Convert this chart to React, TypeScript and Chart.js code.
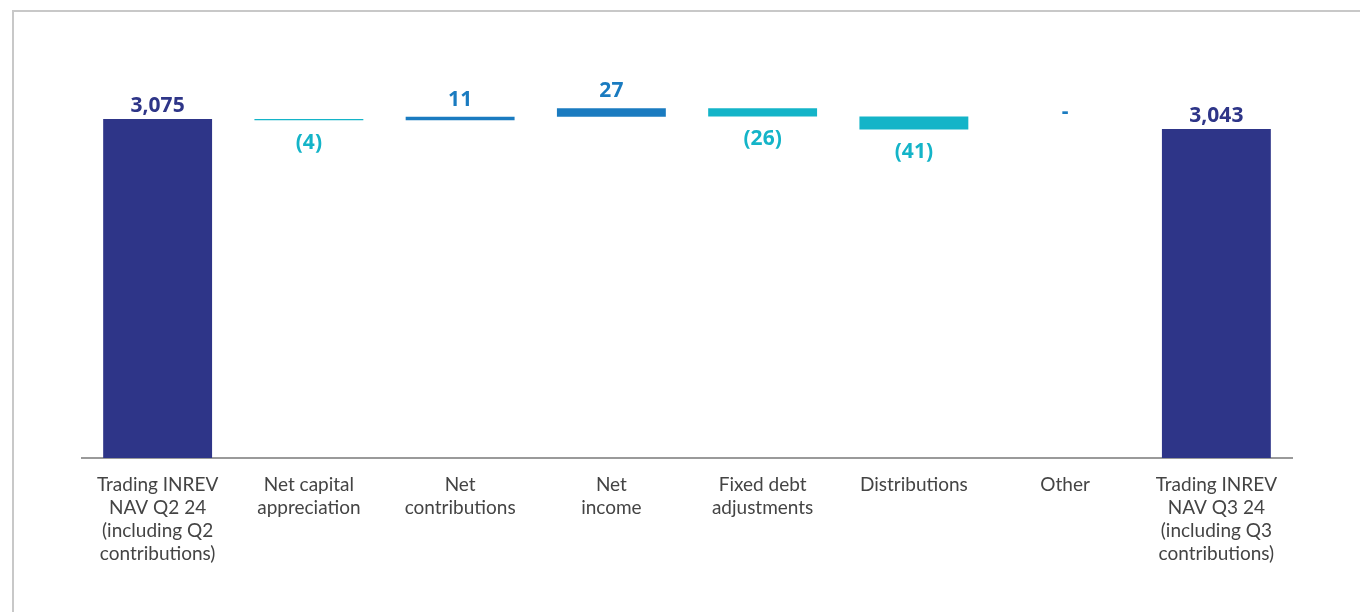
import React, { useEffect, useRef } from "react";
import { Chart, registerables } from "chart.js";

Chart.register(...registerables);

const categories: string[][] = [
  ["Trading INREV", "NAV Q2 24", "(including Q2", "contributions)"],
  ["Net capital", "appreciation"],
  ["Net", "contributions"],
  ["Net", "income"],
  ["Fixed debt", "adjustments"],
  ["Distributions"],
  ["Other"],
  ["Trading INREV", "NAV Q3 24", "(including Q3", "contributions)"],
];
const startTotal = 3075;
const deltas = [-4, 11, 27, -26, -41, 0];
const endTotal = 3043;
const valueLabels = ["3,075", "(4)", "11", "27", "(26)", "(41)", "-", "3,043"];

const NAVY = "#2e3588";
const BLUE = "#1a7bc0";
const CYAN = "#14b4c8";

export default function App() {
  const ref = useRef<HTMLCanvasElement | null>(null);
  useEffect(() => {
    if (!ref.current) return;
    const ranges: [number, number][] = [];
    const colors: string[] = [];
    const kinds: string[] = [];
    ranges.push([2000, startTotal]);
    colors.push(NAVY);
    kinds.push("total");
    let run = startTotal;
    for (const d of deltas) {
      ranges.push([run, run + d]);
      colors.push(d < 0 ? CYAN : BLUE);
      kinds.push(d < 0 ? "neg" : "pos");
      run += d;
    }
    ranges.push([2000, endTotal]);
    colors.push(NAVY);
    kinds.push("total");

    const labelPlugin = {
      id: "wfLabels",
      afterDatasetsDraw(chart: any) {
        const ctx = chart.ctx;
        const meta = chart.getDatasetMeta(0);
        const ys = chart.scales.y;
        ctx.save();
        ctx.font = "bold 21px 'Noto Sans', sans-serif";
        ctx.textAlign = "center";
        meta.data.forEach((el: any, i: number) => {
          const [a, b] = ranges[i];
          const top = ys.getPixelForValue(Math.max(a, b));
          const bot = ys.getPixelForValue(Math.min(a, b));
          const k = kinds[i];
          ctx.fillStyle = k === "total" ? NAVY : k === "neg" ? CYAN : BLUE;
          if (k === "neg") {
            ctx.textBaseline = "top";
            ctx.fillText(valueLabels[i], el.x, bot + 12);
          } else {
            ctx.textBaseline = "alphabetic";
            ctx.fillText(valueLabels[i], el.x, top - (k === "total" ? 7 : 11));
          }
        });
        ctx.restore();
      },
    };

    const chart = new Chart(ref.current, {
      type: "bar",
      data: {
        labels: categories,
        datasets: [
          {
            data: ranges as any,
            backgroundColor: colors,
            borderWidth: 0,
            barPercentage: 0.72,
            categoryPercentage: 1,
          },
        ],
      },
      options: {
        animation: false,
        responsive: false,
        maintainAspectRatio: false,
        layout: { padding: { left: 82, right: 68, top: 48, bottom: 32 } },
        plugins: { legend: { display: false }, tooltip: { enabled: false } },
        scales: {
          y: { display: false, min: 2000, max: 3300 },
          x: {
            grid: { display: false, drawTicks: false },
            border: { display: true, color: "#9a9a9a", width: 2 },
            ticks: {
              color: "#444444",
              padding: 15,
              autoSkip: false,
              maxRotation: 0,
              font: { family: "Lato", size: 19, lineHeight: 1.21 },
            },
          },
        },
      },
      plugins: [labelPlugin],
    });
    return () => chart.destroy();
  }, []);

  return (
    <div style={{ position: "fixed", left: 0, top: 0, width: 1360, height: 612, background: "#fff" }}>
      <div
        style={{
          position: "absolute",
          left: 12,
          top: 10,
          width: 1400,
          height: 700,
          borderTop: "2px solid #c8c8c8",
          borderLeft: "2px solid #c8c8c8",
        }}
      />
      <canvas ref={ref} width={1360} height={612} style={{ position: "absolute", left: 0, top: 0 }} />
    </div>
  );
}
